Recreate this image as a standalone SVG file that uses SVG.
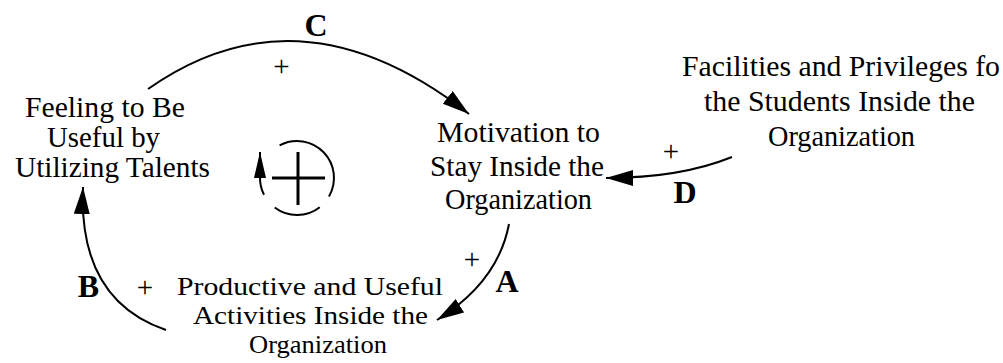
<svg xmlns="http://www.w3.org/2000/svg" width="1003" height="363" viewBox="0 0 1003 363">
  <style>
    .label { font-family: "Liberation Serif", "Times New Roman", serif; font-size: 29px; fill: #000; }
    .small { font-size: 26px; }
    .sign { font-family: "Liberation Serif", "Times New Roman", serif; font-size: 29px; fill: #000; text-anchor: middle; }
    .tag { font-family: "Liberation Serif", "Times New Roman", serif; font-size: 32px; font-weight: bold; fill: #000; text-anchor: middle; }
    .link { fill: none; stroke: #000; stroke-width: 2; marker-end: url(#head); }
    .loop { fill: none; stroke: #000; stroke-width: 2; }
  </style>
  <defs>
    <marker id="head" markerUnits="userSpaceOnUse" markerWidth="28" markerHeight="17" refX="27" refY="8" orient="auto">
      <path d="M0,0 L27,8 L0,16 Z" fill="#000"/>
    </marker>
    <marker id="loophead" markerUnits="userSpaceOnUse" markerWidth="27" markerHeight="13" refX="26" refY="6" orient="auto">
      <path d="M0,0 L26,6 L0,12 Z" fill="#000"/>
    </marker>
  </defs>

  <!-- causal links -->
  <g id="connectors">
    <path id="link-c" class="link" d="M148,89 Q300,-18 469,114"/>
    <path id="link-d" class="link" d="M732,157 Q680,178 606,178"/>
    <path id="link-a" class="link" d="M509,224 Q498,282 437,320"/>
    <path id="link-b" class="link" d="M166,330 Q78,300 83,187"/>
    <text class="sign" x="281.5" y="76">+</text>
    <text class="sign" x="671" y="161">+</text>
    <text class="sign" x="472" y="269">+</text>
    <text class="sign" x="145" y="297">+</text>
    <text class="tag" x="316" y="36">C</text>
    <text class="tag" x="685" y="203">D</text>
    <text class="tag" x="507" y="292">A</text>
    <text class="tag" x="88.5" y="297">B</text>
  </g>

  <!-- reinforcing loop marker -->
  <g id="loop-polarity">
    <path class="loop" d="M279.6,145.3 A37,37 0 0 1 329,196.5"/>
    <path class="loop" d="M319.8,207.2 A37,37 0 0 1 274.7,207.5"/>
    <path class="loop" d="M264,194.8 A37,37 0 0 1 260,178 L260,152" marker-end="url(#loophead)"/>
    <line x1="272" y1="178" x2="325" y2="178" stroke="#000" stroke-width="3"/>
    <line x1="298" y1="152" x2="298" y2="205" stroke="#000" stroke-width="3"/>
  </g>

  <g id="node-feeling">
    <text class="label" x="25" y="117" textLength="160" lengthAdjust="spacingAndGlyphs">Feeling to Be</text>
    <text class="label" x="47" y="147" textLength="113" lengthAdjust="spacingAndGlyphs">Useful by</text>
    <text class="label" x="15" y="177" textLength="195" lengthAdjust="spacingAndGlyphs">Utilizing Talents</text>
  </g>

  <g id="node-motivation">
    <text class="label" x="437" y="142" textLength="163" lengthAdjust="spacingAndGlyphs">Motivation to</text>
    <text class="label" x="430" y="176" textLength="174" lengthAdjust="spacingAndGlyphs">Stay Inside the</text>
    <text class="label" x="445" y="209" textLength="147" lengthAdjust="spacingAndGlyphs">Organization</text>
  </g>

  <g id="node-facilities">
    <text class="label" x="682" y="76" textLength="318" lengthAdjust="spacingAndGlyphs">Facilities and Privileges fo</text>
    <text class="label" x="704" y="111" textLength="271" lengthAdjust="spacingAndGlyphs">the Students Inside the</text>
    <text class="label" x="768" y="146" textLength="147" lengthAdjust="spacingAndGlyphs">Organization</text>
  </g>

  <g id="node-productive">
    <text class="label small" x="177" y="295" textLength="266" lengthAdjust="spacingAndGlyphs">Productive and Useful</text>
    <text class="label small" x="193" y="324" textLength="235" lengthAdjust="spacingAndGlyphs">Activities Inside the</text>
    <text class="label small" x="249" y="353" textLength="138" lengthAdjust="spacingAndGlyphs">Organization</text>
  </g>
</svg>
